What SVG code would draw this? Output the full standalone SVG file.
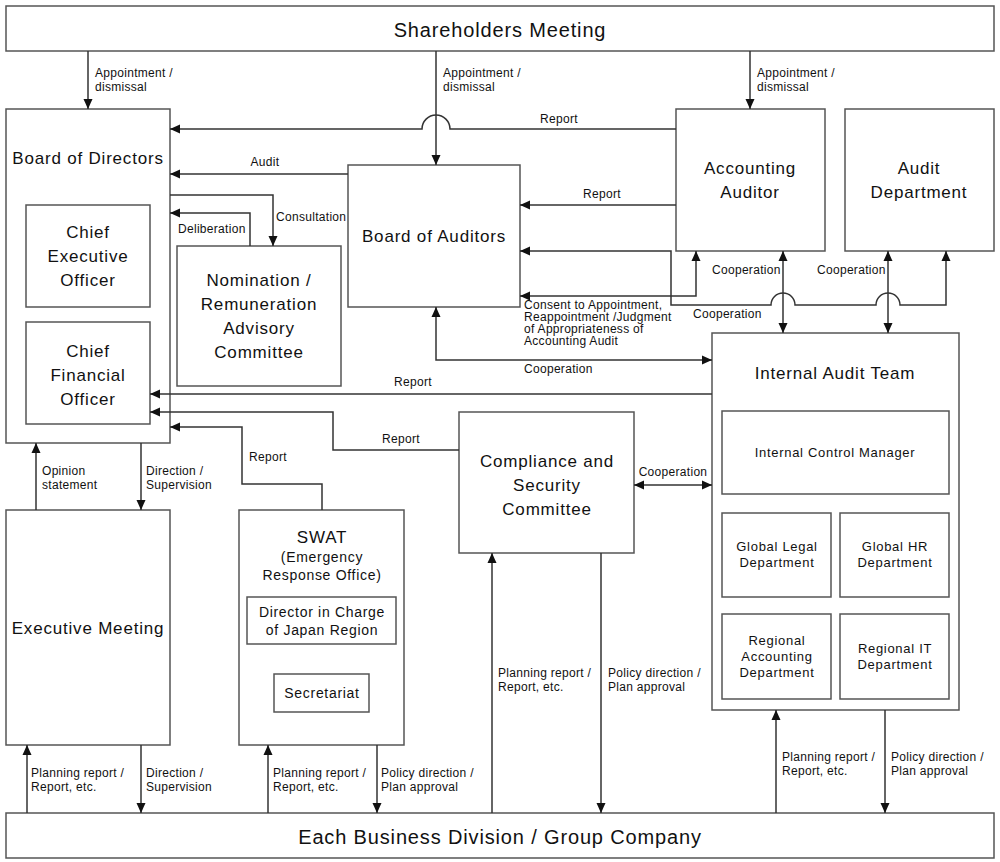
<svg xmlns="http://www.w3.org/2000/svg" width="1000" height="862" viewBox="0 0 1000 862">
<style>
.box{fill:#fff;stroke:#555;stroke-width:1.5}
.ln{fill:none;stroke:#333;stroke-width:1.5}
text{font-family:"Liberation Sans",Arial,sans-serif;fill:#111}
.big{font-size:20px;text-anchor:middle;letter-spacing:0.85px}
.t{font-size:17px;text-anchor:middle;letter-spacing:0.8px}
.m{font-size:14px;text-anchor:middle;letter-spacing:0.7px}
.s{font-size:13px;text-anchor:middle;letter-spacing:0.7px}
.l{font-size:12px;letter-spacing:0.3px}
.lc{font-size:12px;text-anchor:middle;letter-spacing:0.3px}
</style>
<defs>
<marker id="a" viewBox="0 0 10 10" refX="10" refY="5" markerWidth="10" markerHeight="10" markerUnits="userSpaceOnUse" orient="auto-start-reverse">
<path d="M0,0.5 L10,5 L0,9.5 z" fill="#111"/>
</marker>
</defs>
<rect width="1000" height="862" fill="#fff"/>

<g id="shareholders">
<rect class="box" x="6" y="6" width="988" height="45"/>
<text class="big" x="500" y="37">Shareholders Meeting</text>
</g>
<g id="business">
<rect class="box" x="6" y="813" width="988" height="45"/>
<text class="big" x="500" y="844">Each Business Division / Group Company</text>
</g>
<g id="board-directors">
<rect class="box" x="6" y="109" width="164" height="334"/>
<text class="t" x="88" y="164">Board of Directors</text>
</g>
<g id="ceo">
<rect class="box" x="26" y="205" width="124" height="102"/>
<text class="t" x="88" y="238">Chief</text>
<text class="t" x="88" y="262">Executive</text>
<text class="t" x="88" y="286">Officer</text>
</g>
<g id="cfo">
<rect class="box" x="26" y="322" width="124" height="102"/>
<text class="t" x="88" y="357">Chief</text>
<text class="t" x="88" y="381">Financial</text>
<text class="t" x="88" y="405">Officer</text>
</g>
<g id="nomination">
<rect class="box" x="177" y="246" width="164" height="140"/>
<text class="t" x="259" y="286">Nomination /</text>
<text class="t" x="259" y="310">Remuneration</text>
<text class="t" x="259" y="334">Advisory</text>
<text class="t" x="259" y="358">Committee</text>
</g>
<g id="board-auditors">
<rect class="box" x="348" y="165" width="172" height="142"/>
<text class="t" x="434" y="242">Board of Auditors</text>
</g>
<g id="accounting-auditor">
<rect class="box" x="676" y="109" width="149" height="142"/>
<text class="t" x="750" y="174">Accounting</text>
<text class="t" x="750" y="198">Auditor</text>
</g>
<g id="audit-department">
<rect class="box" x="845" y="109" width="149" height="142"/>
<text class="t" x="919" y="174">Audit</text>
<text class="t" x="919" y="198">Department</text>
</g>
<g id="internal-audit">
<rect class="box" x="712" y="333" width="247" height="377"/>
<text class="t" x="835" y="379">Internal Audit Team</text>
</g>
<g id="internal-control">
<rect class="box" x="722" y="411" width="227" height="83"/>
<text class="s" x="835" y="457">Internal Control Manager</text>
</g>
<g id="global-legal">
<rect class="box" x="722" y="513" width="109" height="84"/>
<text class="s" x="777" y="551">Global Legal</text>
<text class="s" x="777" y="567">Department</text>
</g>
<g id="global-hr">
<rect class="box" x="840" y="513" width="109" height="84"/>
<text class="s" x="895" y="551">Global HR</text>
<text class="s" x="895" y="567">Department</text>
</g>
<g id="regional-accounting">
<rect class="box" x="722" y="614" width="109" height="85"/>
<text class="s" x="777" y="645">Regional</text>
<text class="s" x="777" y="661">Accounting</text>
<text class="s" x="777" y="677">Department</text>
</g>
<g id="regional-it">
<rect class="box" x="840" y="614" width="109" height="85"/>
<text class="s" x="895" y="653">Regional IT</text>
<text class="s" x="895" y="669">Department</text>
</g>
<g id="compliance">
<rect class="box" x="459" y="412" width="175" height="141"/>
<text class="t" x="547" y="467">Compliance and</text>
<text class="t" x="547" y="491">Security</text>
<text class="t" x="547" y="515">Committee</text>
</g>
<g id="executive">
<rect class="box" x="6" y="510" width="164" height="235"/>
<text class="t" x="88" y="634">Executive Meeting</text>
</g>
<g id="swat">
<rect class="box" x="239" y="510" width="165" height="235"/>
<text class="t" x="322" y="543">SWAT</text>
<text class="m" x="322" y="562">(Emergency</text>
<text class="m" x="322" y="580">Response Office)</text>
</g>
<g id="director-japan">
<rect class="box" x="247" y="597" width="149" height="47"/>
<text class="m" x="322" y="617">Director in Charge</text>
<text class="m" x="322" y="635">of Japan Region</text>
</g>
<g id="secretariat">
<rect class="box" x="274" y="674" width="95" height="38"/>
<text class="m" x="322" y="698">Secretariat</text>
</g>

<g id="connectors">
<path class="ln" d="M88,51 V109" marker-end="url(#a)"/>
<path class="ln" d="M436,51 V165" marker-end="url(#a)"/>
<path class="ln" d="M750,51 V109" marker-end="url(#a)"/>
<path class="ln" d="M676,129 H450 A14,14 0 0 0 422,129 H170" marker-end="url(#a)"/>
<path class="ln" d="M348,174 H170" marker-end="url(#a)"/>
<path class="ln" d="M170,195 H273 V246" marker-end="url(#a)"/>
<path class="ln" d="M250,246 V213 H170" marker-end="url(#a)"/>
<path class="ln" d="M676,205 H520" marker-end="url(#a)"/>
<path class="ln" d="M520,251 H671 V305 H771 A12,12 0 0 1 795,305 H876 A12,12 0 0 1 900,305 H946 V251" marker-start="url(#a)" marker-end="url(#a)"/>
<path class="ln" d="M520,296 H696 V251" marker-start="url(#a)" marker-end="url(#a)"/>
<path class="ln" d="M783,251 V333" marker-start="url(#a)" marker-end="url(#a)"/>
<path class="ln" d="M888,251 V333" marker-start="url(#a)" marker-end="url(#a)"/>
<path class="ln" d="M436,307 V360 H712" marker-start="url(#a)" marker-end="url(#a)"/>
<path class="ln" d="M712,394 H150" marker-end="url(#a)"/>
<path class="ln" d="M459,450 H333 V412 H150" marker-end="url(#a)"/>
<path class="ln" d="M322,510 V484 H242 V427 H170" marker-end="url(#a)"/>
<path class="ln" d="M634,485 H712" marker-start="url(#a)" marker-end="url(#a)"/>
<path class="ln" d="M36,510 V443" marker-end="url(#a)"/>
<path class="ln" d="M141,443 V510" marker-end="url(#a)"/>
<path class="ln" d="M27,813 V745" marker-end="url(#a)"/>
<path class="ln" d="M141,745 V813" marker-end="url(#a)"/>
<path class="ln" d="M268,813 V745" marker-end="url(#a)"/>
<path class="ln" d="M377,745 V813" marker-end="url(#a)"/>
<path class="ln" d="M492,813 V553" marker-end="url(#a)"/>
<path class="ln" d="M601,553 V813" marker-end="url(#a)"/>
<path class="ln" d="M776,813 V710" marker-end="url(#a)"/>
<path class="ln" d="M885,710 V813" marker-end="url(#a)"/>
</g>

<g id="labels">
<text class="l" x="95" y="77">Appointment /</text>
<text class="l" x="95" y="91">dismissal</text>
<text class="l" x="443" y="77">Appointment /</text>
<text class="l" x="443" y="91">dismissal</text>
<text class="l" x="757" y="77">Appointment /</text>
<text class="l" x="757" y="91">dismissal</text>
<text class="lc" x="559" y="123">Report</text>
<text class="lc" x="265" y="166">Audit</text>
<text class="l" x="276" y="221">Consultation</text>
<text class="l" x="178" y="233">Deliberation</text>
<text class="lc" x="602" y="198">Report</text>
<text class="l" x="524" y="309">Consent to Appointment,</text>
<text class="l" x="524" y="321">Reappointment /Judgment</text>
<text class="l" x="524" y="333">of Appropriateness of</text>
<text class="l" x="524" y="345">Accounting Audit</text>
<text class="l" x="712" y="274">Cooperation</text>
<text class="l" x="817" y="274">Cooperation</text>
<text class="l" x="693" y="318">Cooperation</text>
<text class="l" x="524" y="373">Cooperation</text>
<text class="lc" x="413" y="386">Report</text>
<text class="lc" x="401" y="443">Report</text>
<text class="lc" x="673" y="476">Cooperation</text>
<text class="l" x="249" y="461">Report</text>
<text class="l" x="42" y="475">Opinion</text>
<text class="l" x="42" y="489">statement</text>
<text class="l" x="146" y="475">Direction /</text>
<text class="l" x="146" y="489">Supervision</text>
<text class="l" x="31" y="777">Planning report /</text>
<text class="l" x="31" y="791">Report, etc.</text>
<text class="l" x="146" y="777">Direction /</text>
<text class="l" x="146" y="791">Supervision</text>
<text class="l" x="273" y="777">Planning report /</text>
<text class="l" x="273" y="791">Report, etc.</text>
<text class="l" x="381" y="777">Policy direction /</text>
<text class="l" x="381" y="791">Plan approval</text>
<text class="l" x="498" y="677">Planning report /</text>
<text class="l" x="498" y="691">Report, etc.</text>
<text class="l" x="608" y="677">Policy direction /</text>
<text class="l" x="608" y="691">Plan approval</text>
<text class="l" x="782" y="761">Planning report /</text>
<text class="l" x="782" y="775">Report, etc.</text>
<text class="l" x="891" y="761">Policy direction /</text>
<text class="l" x="891" y="775">Plan approval</text>
</g>
</svg>
